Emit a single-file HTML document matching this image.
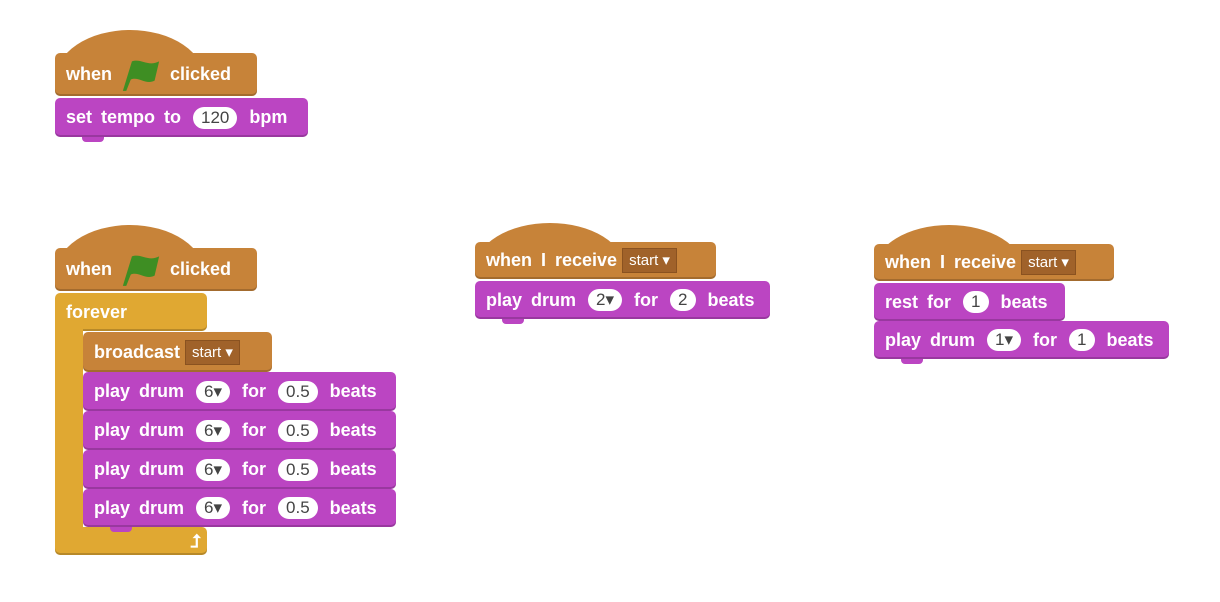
<!DOCTYPE html>
<html><head><meta charset="utf-8"><style>
body{margin:0;width:1220px;height:602px;background:#fff;position:relative;overflow:hidden;font-family:"Liberation Sans",sans-serif}
.b{position:absolute;box-sizing:border-box;border-radius:5px;color:#fff;font-weight:bold;font-size:18px;word-spacing:4px;display:flex;align-items:center;padding-left:11px;white-space:pre;box-shadow:inset 0 -2px 0 rgba(0,0,0,.18)}
.ev{background:#c78339}.snd{background:#bb45c2}.ctl{background:#e0a832}
.cap{position:absolute;border-radius:50%/100% 100% 0 0}
.in{display:inline-block;background:#fff;color:#444;font-weight:normal;border-radius:11px;height:22px;line-height:22px;padding:0 8px;font-size:17px;margin:0 3px;word-spacing:0}
.dd{display:inline-block;background:#a0622a;color:#fff;font-weight:normal;font-size:15px;height:25px;line-height:25px;padding:0 7px;box-shadow:inset 0 0 0 1px #8a5220;margin-left:5px;word-spacing:0}
.tab{position:absolute;width:22px;height:5px;border-radius:0 0 4px 4px}
.flag{display:inline-block;width:46px;height:34px;position:relative;margin:0 6px}
</style></head><body>

<div class="cap ev" style="left:55px;top:30px;width:150px;height:50px"></div>
<div class="b ev" style="left:55px;top:53px;width:202px;height:43px">when<svg class="flag" viewBox="0 0 40 30"><path d="M4 29 L12 3 C20 0 26 8 36 3 L32 20 C24 24 18 16 11 19 L7 29Z" fill="#3e8e23"/></svg>clicked</div>
<div class="b snd" style="left:55px;top:98px;width:253px;height:39px">set tempo to <span class="in">120</span> bpm</div>
<div class="tab snd" style="left:82px;top:137px"></div>

<div class="cap ev" style="left:55px;top:225px;width:150px;height:50px"></div>
<div class="b ev" style="left:55px;top:248px;width:202px;height:43px">when<svg class="flag" viewBox="0 0 40 30"><path d="M4 29 L12 3 C20 0 26 8 36 3 L32 20 C24 24 18 16 11 19 L7 29Z" fill="#3e8e23"/></svg>clicked</div>
<div class="b ctl" style="left:55px;top:293px;width:152px;height:38px;align-items:flex-start;padding-top:9px;border-radius:5px 5px 5px 0">forever</div>
<div class="ctl" style="position:absolute;left:55px;top:320px;width:28px;height:220px"></div>
<div class="b ctl" style="left:55px;top:527px;width:152px;height:28px;border-radius:0 5px 5px 5px;justify-content:flex-end;padding-right:6px"><span style="font-size:18px">⮥</span></div>
<div class="b ev" style="left:83px;top:332px;width:189px;height:40px">broadcast<span class="dd">start ▾</span></div>
<div class="b snd" style="left:83px;top:372px;width:313px;height:39px">play drum <span class="in">6▾</span> for <span class="in">0.5</span> beats</div>
<div class="b snd" style="left:83px;top:411px;width:313px;height:39px">play drum <span class="in">6▾</span> for <span class="in">0.5</span> beats</div>
<div class="b snd" style="left:83px;top:450px;width:313px;height:39px">play drum <span class="in">6▾</span> for <span class="in">0.5</span> beats</div>
<div class="b snd" style="left:83px;top:489px;width:313px;height:38px">play drum <span class="in">6▾</span> for <span class="in">0.5</span> beats</div>
<div class="tab snd" style="left:110px;top:527px"></div>

<div class="cap ev" style="left:475px;top:223px;width:150px;height:46px"></div>
<div class="b ev" style="left:475px;top:242px;width:241px;height:37px">when I receive<span class="dd">start ▾</span></div>
<div class="b snd" style="left:475px;top:281px;width:295px;height:38px">play drum <span class="in">2▾</span> for <span class="in">2</span> beats</div>
<div class="tab snd" style="left:502px;top:319px"></div>

<div class="cap ev" style="left:874px;top:225px;width:150px;height:46px"></div>
<div class="b ev" style="left:874px;top:244px;width:240px;height:37px">when I receive<span class="dd">start ▾</span></div>
<div class="b snd" style="left:874px;top:283px;width:191px;height:38px">rest for <span class="in">1</span> beats</div>
<div class="b snd" style="left:874px;top:321px;width:295px;height:38px">play drum <span class="in">1▾</span> for <span class="in">1</span> beats</div>
<div class="tab snd" style="left:901px;top:359px"></div>

</body></html>
